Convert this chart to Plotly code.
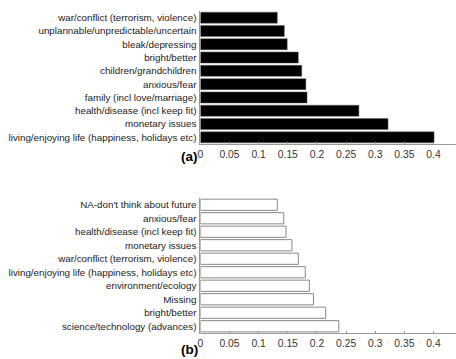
import plotly.graph_objects as go

cats_a = ["war/conflict (terrorism, violence)", "unplannable/unpredictable/uncertain",
          "bleak/depressing", "bright/better", "children/grandchildren", "anxious/fear",
          "family (incl love/marriage)", "health/disease (incl keep fit)",
          "monetary issues", "living/enjoying life (happiness, holidays etc)"]
vals_a = [0.132, 0.144, 0.149, 0.168, 0.174, 0.181, 0.183, 0.272, 0.322, 0.401]

cats_b = ["NA-don't think about future", "anxious/fear", "health/disease (incl keep fit)",
          "monetary issues", "war/conflict (terrorism, violence)",
          "living/enjoying life (happiness, holidays etc)", "environment/ecology",
          "Missing", "bright/better", "science/technology (advances)"]
vals_b = [0.132, 0.143, 0.147, 0.157, 0.168, 0.180, 0.187, 0.194, 0.215, 0.2375]

tick_vals = [0, 0.05, 0.1, 0.15, 0.2, 0.25, 0.3, 0.35, 0.4]
tick_text = ["0", "0.05", "0.1", "0.15", "0.2", "0.25", "0.3", "0.35", "0.4"]

W, H = 456, 359

fig = go.Figure()
fig.add_trace(go.Bar(x=vals_a, y=cats_a, orientation="h", xaxis="x", yaxis="y",
                     marker=dict(color="black", line=dict(color="#666", width=0.5))))
fig.add_trace(go.Bar(x=vals_b, y=cats_b, orientation="h", xaxis="x2", yaxis="y2",
                     marker=dict(color="white", line=dict(color="#888", width=1))))

lab_font = dict(family="Liberation Sans, Arial", size=9.8, color="#222")
tick_font = dict(family="Liberation Sans, Arial", size=10.3, color="#333")
xcommon = dict(range=[0, 0.4386], tickvals=tick_vals, ticktext=tick_text, showgrid=False,
               zeroline=False, showline=True, linecolor="#999", linewidth=1,
               ticks="inside", ticklen=2, tickcolor="#999", tickfont=tick_font,
               ticklabelstandoff=1)
ycommon = dict(autorange="reversed", showgrid=False, zeroline=False, showline=True,
               linecolor="#999", linewidth=1, ticks="", tickfont=lab_font, ticklabelstandoff=1)

ann_font = dict(family="Liberation Sans, Arial", size=13.5, color="black")
fig.update_layout(
    width=W, height=H, margin=dict(l=0, r=0, t=0, b=0),
    paper_bgcolor="white", plot_bgcolor="white", showlegend=False, bargap=0.17,
    xaxis=dict(domain=[198.7 / W, 1.0], anchor="y", **xcommon),
    yaxis=dict(domain=[(H - 144) / H, (H - 11) / H], anchor="x", **ycommon),
    xaxis2=dict(domain=[198.7 / W, 1.0], anchor="y2", **xcommon),
    yaxis2=dict(domain=[(H - 333) / H, (H - 198) / H], anchor="x2", **ycommon),
    annotations=[
        dict(text="<b>(a)</b>", x=188 / W, y=(H - 157) / H, xref="paper", yref="paper",
             xanchor="center", yanchor="middle", showarrow=False, font=ann_font),
        dict(text="<b>(b)</b>", x=188 / W, y=(H - 349) / H, xref="paper", yref="paper",
             xanchor="center", yanchor="middle", showarrow=False, font=ann_font),
    ],
)

fig.write_html("out.html", config={"displayModeBar": False},
               post_script="document.body.style.margin='0px';")
